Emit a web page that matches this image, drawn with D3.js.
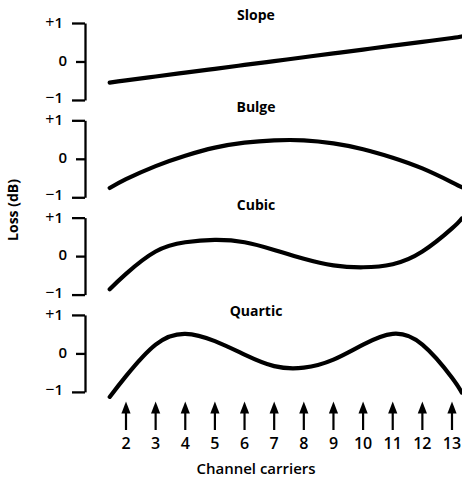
<!DOCTYPE html>
<html>
<head>
<meta charset="utf-8">
<script src="https://cdn.jsdelivr.net/npm/d3@7"></script>
<style>
  body { margin: 0; background: #fff; }
  text { font-family: "Open Sans", "Noto Sans", sans-serif; fill: #000; }
</style>
</head>
<body>
<svg id="chart" width="462" height="480"></svg>
<script>
// Loss-shape components across the channel carriers
const panels = ["Slope", "Bulge", "Cubic", "Quartic"];
const sampleChannels = [1.45, 2, 3, 4, 5, 6, 7, 8, 9, 10, 11, 12, 13, 13.33];
const slopeLoss   = [-0.55, -0.49, -0.39, -0.29, -0.19, -0.09, 0.01, 0.11, 0.21, 0.31, 0.41, 0.51, 0.61, 0.65];
const bulgeLoss   = [-0.76, -0.53, -0.19, 0.08, 0.29, 0.42, 0.48, 0.48, 0.40, 0.25, 0.03, -0.25, -0.61, -0.74];
const cubicLoss   = [-0.86, -0.46, 0.12, 0.36, 0.42, 0.36, 0.16, -0.07, -0.24, -0.29, -0.21, 0.12, 0.72, 0.98];
const quarticLoss = [-1.13, -0.59, 0.23, 0.51, 0.32, -0.03, -0.33, -0.37, -0.16, 0.23, 0.51, 0.23, -0.63, -1.02];
const carrierChannels = [2, 3, 4, 5, 6, 7, 8, 9, 10, 11, 12, 13];
const lossTicks = [1, 0, -1];
const lossTickLabels = ["+1", "0", "−1"];

const seriesByPanel = { Slope: slopeLoss, Bulge: bulgeLoss, Cubic: cubicLoss, Quartic: quarticLoss };
const titleOffset = { Slope: -3, Bulge: -8, Cubic: -8, Quartic: 1 };

const svg = d3.select("#chart");

const x = d3.scaleLinear().domain([2, 13]).range([126, 452]);
const band = d3.scaleBand().domain(panels).range([23, 391.9])
  .paddingInner(0.209).paddingOuter(0);
const axisX = 85;

const line = d3.line().curve(d3.curveNatural);

panels.forEach(name => {
  const top = band(name);
  const y = d3.scaleLinear().domain([1, -1]).range([top, top + band.bandwidth()]);

  // loss axis with +1 / 0 / −1 ticks
  const ax = svg.append("g")
    .attr("transform", `translate(${axisX},0)`)
    .call(d3.axisLeft(y).tickValues(lossTicks).tickSize(13).tickSizeOuter(0).tickPadding(8)
      .tickFormat((d, i) => lossTickLabels[i]));
  ax.selectAll("path.domain").attr("stroke", "#000").attr("stroke-width", 2.3);
  ax.selectAll(".tick line").attr("stroke", "#000").attr("stroke-width", 2.3)
    .attr("x2", d => d === 0 ? -9 : -13);
  ax.selectAll(".tick text").each(function(d, i) {
    const t = d3.select(this);
    const label = lossTickLabels[i];
    t.text(null).attr("font-family", null).attr("font-size", null)
      .attr("x", d === 0 ? -18 : -22)
      .attr("y", d === 1 ? 1 : d === -1 ? -1 : 0)
      .attr("dy", "0.36em");
    if (label.length > 1) {
      t.append("tspan").attr("font-size", 16).attr("font-weight", 400).text(label[0]);
      t.append("tspan").attr("font-size", 15).attr("font-weight", 600).text(label.slice(1));
    } else {
      t.append("tspan").attr("font-size", 15).attr("font-weight", 600).text(label);
    }
  });

  // panel title
  svg.append("text")
    .attr("x", 256).attr("y", top + titleOffset[name])
    .attr("text-anchor", "middle")
    .attr("font-size", 14).attr("font-weight", 700)
    .text(name);

  // loss curve
  const pts = sampleChannels.map((c, i) => [x(c), y(seriesByPanel[name][i])]);
  svg.append("path")
    .attr("d", line(pts))
    .attr("fill", "none").attr("stroke", "#000")
    .attr("stroke-width", 4.2).attr("stroke-linecap", "round").attr("stroke-linejoin", "round");
});

// channel carrier arrows
const arrows = svg.append("g");
carrierChannels.forEach(c => {
  const cx = x(c);
  arrows.append("line")
    .attr("x1", cx).attr("x2", cx).attr("y1", 411).attr("y2", 430)
    .attr("stroke", "#000").attr("stroke-width", 2.2);
  arrows.append("path")
    .attr("d", `M${cx},401.5 L${cx + 4.6},413.5 L${cx - 4.6},413.5 Z`)
    .attr("fill", "#000");
  arrows.append("text")
    .attr("x", cx).attr("y", 449)
    .attr("text-anchor", "middle")
    .attr("font-size", 16).attr("font-weight", 600)
    .text(c);
});

// axis titles
svg.append("text")
  .attr("x", 256).attr("y", 474)
  .attr("text-anchor", "middle")
  .attr("font-size", 15).attr("font-weight", 600)
  .text("Channel carriers");

svg.append("text")
  .attr("transform", "translate(18,210) rotate(-90)")
  .attr("text-anchor", "middle")
  .attr("font-size", 14).attr("font-weight", 700)
  .text("Loss (dB)");
</script>
</body>
</html>
